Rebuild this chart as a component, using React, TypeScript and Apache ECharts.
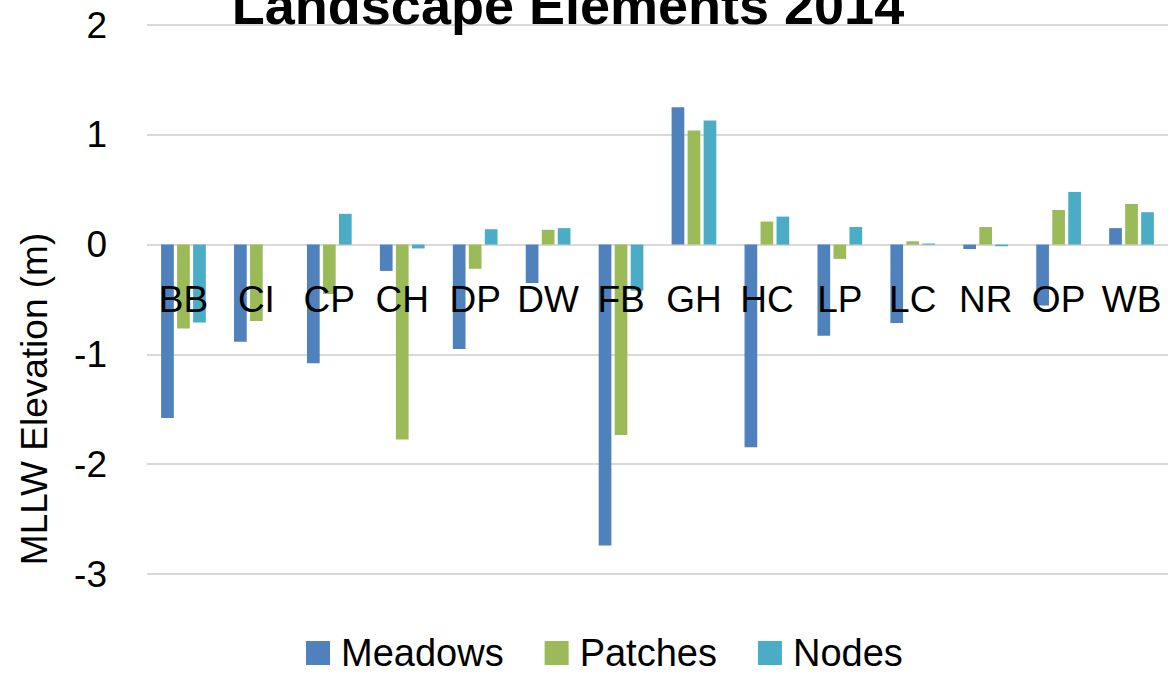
import React, { useEffect, useRef } from "react";
import * as echarts from "echarts";

const categories = ["BB", "CI", "CP", "CH", "DP", "DW", "FB", "GH", "HC", "LP", "LC", "NR", "OP", "WB"];
const meadows = [-1.58, -0.885, -1.08, -0.24, -0.95, -0.35, -2.74, 1.25, -1.845, -0.83, -0.715, -0.04, -0.555, 0.15];
const patches = [-0.765, -0.695, -0.45, -1.775, -0.22, 0.135, -1.735, 1.04, 0.21, -0.13, 0.03, 0.16, 0.315, 0.37];
const nodes = [-0.71, 0, 0.28, -0.035, 0.14, 0.15, -0.42, 1.13, 0.255, 0.16, 0.01, -0.015, 0.48, 0.295];
const seriesNames = ["Meadows", "Patches", "Nodes"];
const colors = ["#4f81bd", "#9bbb59", "#4bacc6"];
const titleText = "Landscape Elements 2014";
const yTitle = "MLLW Elevation (m)";

const FONT = "'Liberation Sans', Arial, sans-serif";

export default function App() {
  const ref = useRef<HTMLDivElement>(null);
  useEffect(() => {
    document.body.style.margin = "0";
    const chart = echarts.init(ref.current!, null, { renderer: "svg" });
    const values = [meadows, patches, nodes];
    chart.setOption({
      animation: false,
      backgroundColor: "#ffffff",
      textStyle: { fontFamily: FONT },
      title: {
        text: titleText,
        left: 563,
        top: -27,
        textAlign: "center",
        textStyle: { fontSize: 54, fontWeight: "bold", color: "#000", fontFamily: FONT },
      },
      legend: {
        left: 301,
        top: 629,
        itemWidth: 24,
        itemHeight: 24,
        itemGap: 41,
        icon: "rect",
        textStyle: { fontSize: 38, lineHeight: 36, color: "#000", fontFamily: FONT, padding: [0, 0, 0, 6] },
        data: seriesNames,
      },
      grid: { left: 147, right: 0, top: 25, bottom: 100, containLabel: false },
      xAxis: {
        type: "category",
        data: categories,
        position: "bottom",
        offset: -330,
        z: 10,
        axisLine: { show: false },
        axisTick: { show: false },
        axisLabel: { fontSize: 37, color: "#000", margin: 37, fontFamily: FONT, interval: 0 },
      },
      yAxis: {
        type: "value",
        min: -3,
        max: 2,
        interval: 1,
        axisLine: { show: false },
        axisTick: { show: false },
        splitLine: { lineStyle: { color: "#d9d9d9", width: 2 } },
        axisLabel: { fontSize: 37, color: "#000", margin: 40, fontFamily: FONT },
      },
      graphic: [
        {
          type: "text",
          x: 34,
          y: 399,
          rotation: Math.PI / 2,
          style: {
            text: yTitle,
            fontSize: 37,
            fontFamily: FONT,
            fill: "#000",
            align: "center",
            verticalAlign: "middle",
          },
        },
      ],
      series: seriesNames.map((name, i) => ({
        name,
        type: "bar",
        data: values[i],
        barWidth: 12.7,
        barGap: "26%",
        itemStyle: { color: colors[i] },
      })),
    });
    return () => chart.dispose();
  }, []);
  return <div ref={ref} style={{ width: 1168, height: 674 }} />;
}
